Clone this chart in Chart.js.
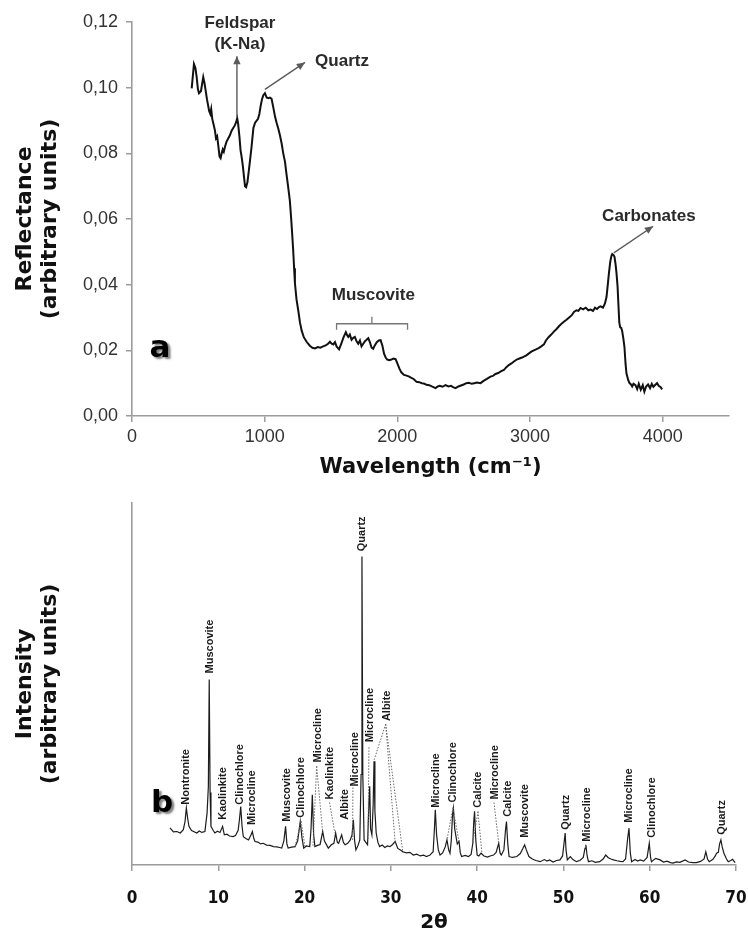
<!DOCTYPE html>
<html><head><meta charset="utf-8">
<script src="https://cdn.jsdelivr.net/npm/chart.js@4/dist/chart.umd.min.js"></script>
<style>
html,body{margin:0;padding:0;background:#fff;width:748px;height:936px;overflow:hidden}
#w1{position:absolute;left:0;top:0;width:748px;height:480px}
#w2{position:absolute;left:0;top:480px;width:748px;height:456px}
</style></head><body>
<div id="w1"><canvas id="c1"></canvas></div>
<div id="w2"><canvas id="c2"></canvas></div>
<script>
// ---------- (a) FTIR reflectance ----------
const wavenumber = [
450,467,478,487,497,505,520,537,546,555,
565,575,582,590,597,605,615,625,633,642,
650,660,668,676,684,692,701,712,725,738,
750,763,775,785,793,800,810,818,826,836,
845,852,860,870,880,890,900,915,928,940,
950,960,970,980,990,1002,1015,1027,1040,1052,
1065,1078,1090,1103,1115,1128,1140,1153,1165,1178,
1190,1200,1208,1215,1222,1228,1240,1253,1266,1279,
1295,1316,1340,1360,1379,1400,1420,1440,1460,1478,
1492,1505,1517,1530,1542,1561,1579,1595,1612,1622,
1630,1642,1655,1668,1680,1692,1705,1718,1730,1743,
1756,1768,1781,1793,1806,1818,1830,1845,1860,1874,
1887,1900,1912,1924,1940,1955,1970,1987,2000,2015,
2030,2050,2070,2090,2110,2125,2145,2165,2185,2200,
2220,2240,2260,2288,2305,2320,2340,2363,2385,2405,
2420,2439,2460,2480,2500,2520,2539,2560,2580,2600,
2627,2650,2675,2702,2720,2740,2760,2780,2803,2820,
2840,2860,2879,2900,2920,2940,2954,2970,2990,3010,
3029,3045,3065,3085,3105,3120,3140,3160,3180,3200,
3220,3240,3255,3275,3295,3315,3331,3350,3365,3381,
3400,3420,3440,3457,3475,3490,3505,3520,3532,3550,
3565,3577,3585,3595,3605,3614,3620,3630,3637,3645,
3652,3660,3667,3673,3680,3688,3695,3704,3712,3720,
3727,3740,3750,3757,3770,3780,3795,3808,3820,3835,
3850,3862,3875,3890,3905,3918,3930,3945,3958,3970,
3985,3996];
const reflectance = [
0.0998,0.1072,0.1060,0.1034,0.0995,0.0983,0.0990,0.1032,0.1015,0.0992,
0.0965,0.0943,0.0928,0.0920,0.0935,0.0905,0.0888,0.0870,0.0846,0.0852,
0.0825,0.0790,0.0785,0.0800,0.0812,0.0805,0.0820,0.0835,0.0845,0.0855,
0.0868,0.0877,0.0885,0.0895,0.0907,0.0890,0.0850,0.0810,0.0790,0.0760,
0.0725,0.0700,0.0697,0.0712,0.0745,0.0780,0.0815,0.0877,0.0893,0.0900,
0.0905,0.0920,0.0945,0.0965,0.0977,0.0983,0.0970,0.0968,0.0970,0.0966,
0.0940,0.0912,0.0893,0.0875,0.0855,0.0830,0.0800,0.0775,0.0735,0.0695,
0.0655,0.0600,0.0550,0.0505,0.0450,0.0405,0.0355,0.0322,0.0285,0.0260,
0.0240,0.0226,0.0214,0.0208,0.0206,0.0210,0.0208,0.0212,0.0215,0.0220,
0.0226,0.0220,0.0218,0.0225,0.0212,0.0203,0.0222,0.0240,0.0255,0.0246,
0.0241,0.0248,0.0232,0.0238,0.0241,0.0228,0.0220,0.0230,0.0212,0.0220,
0.0228,0.0232,0.0237,0.0225,0.0208,0.0205,0.0215,0.0225,0.0230,0.0231,
0.0215,0.0190,0.0178,0.0172,0.0170,0.0172,0.0175,0.0173,0.0160,0.0145,
0.0133,0.0125,0.0123,0.0120,0.0115,0.0112,0.0104,0.0103,0.0100,0.0099,
0.0095,0.0094,0.0090,0.0085,0.0090,0.0092,0.0089,0.0094,0.0090,0.0092,
0.0088,0.0085,0.0090,0.0093,0.0096,0.0100,0.0101,0.0098,0.0100,0.0102,
0.0100,0.0107,0.0113,0.0120,0.0122,0.0128,0.0131,0.0136,0.0140,0.0148,
0.0155,0.0160,0.0166,0.0172,0.0175,0.0178,0.0181,0.0184,0.0190,0.0196,
0.0200,0.0203,0.0207,0.0212,0.0218,0.0230,0.0240,0.0248,0.0257,0.0265,
0.0274,0.0282,0.0287,0.0293,0.0300,0.0307,0.0317,0.0322,0.0320,0.0329,
0.0325,0.0330,0.0322,0.0324,0.0320,0.0330,0.0326,0.0332,0.0334,0.0330,
0.0343,0.0363,0.0395,0.0435,0.0470,0.0488,0.0493,0.0490,0.0485,0.0462,
0.0435,0.0395,0.0335,0.0285,0.0270,0.0268,0.0258,0.0235,0.0210,0.0160,
0.0130,0.0110,0.0100,0.0098,0.0090,0.0098,0.0094,0.0082,0.0098,0.0080,
0.0094,0.0074,0.0090,0.0096,0.0085,0.0098,0.0089,0.0095,0.0100,0.0092,
0.0088,0.0081];
const ftirXTicks = [0,1000,2000,3000,4000];
const ftirXTickLabels = ['0','1000','2000','3000','4000'];
const ftirYTicks = [0,0.02,0.04,0.06,0.08,0.10,0.12];
const ftirYTickLabels = ['0,00','0,02','0,04','0,06','0,08','0,10','0,12'];

// annotations for (a), in data units
const ftirNotes = [
  {text:'Feldspar', x:814, y:0.1197},
  {text:'(K-Na)', x:814, y:0.1131},
  {text:'Quartz', x:1583, y:0.1081},
  {text:'Muscovite', x:1819, y:0.0369},
  {text:'Carbonates', x:3896, y:0.0608}
];
const ftirArrows = [
  {x1:791, y1:0.0910, x2:791, y2:0.1096},
  {x1:1002, y1:0.0995, x2:1304, y2:0.1077},
  {x1:3632, y1:0.0497, x2:3928, y2:0.0578}
];
const muscoviteBracket = {x1:1542, x2:2077, xm:1808, y:0.0281, yEnd:0.0263, yMid:0.0302};

// ---------- (b) XRD ----------
const twoTheta = [
4.4,4.8,5.2,5.6,5.95,6.15,6.3,6.45,6.6,6.9,
7.2,7.5,7.8,8.1,8.45,8.7,8.85,8.95,9.05,9.15,
9.4,9.6,9.9,10.2,10.5,10.7,11.0,11.3,11.7,12.0,
12.3,12.45,12.6,12.75,12.9,13.2,13.5,13.8,13.95,14.1,
14.25,14.6,14.9,15.2,15.6,16.0,16.4,16.8,17.1,17.35,
17.6,17.8,17.95,18.1,18.5,18.9,19.2,19.5,19.7,19.9,
20.2,20.6,20.75,20.9,21.05,21.2,21.5,21.8,22.1,22.3,
22.75,23.1,23.4,23.6,23.8,23.95,24.3,24.5,24.7,25.0,
25.3,25.5,25.65,25.8,25.95,26.2,26.4,26.55,26.65,26.75,
26.9,27.1,27.3,27.45,27.55,27.65,27.8,27.95,28.05,28.15,
28.3,28.5,28.7,29.0,29.3,29.6,29.9,30.2,30.5,30.8,
31.1,31.4,31.8,32.2,32.6,33.0,33.4,33.8,34.1,34.5,
34.9,35.05,35.15,35.3,35.5,35.7,36.0,36.3,36.5,36.7,
36.85,37.0,37.15,37.25,37.4,37.55,37.7,37.9,38.05,38.2,
38.6,39.0,39.3,39.5,39.6,39.7,39.85,40.0,40.2,40.45,
40.8,41.2,41.5,41.9,42.2,42.5,42.65,42.8,43.1,43.3,
43.4,43.55,43.7,44.1,44.6,45.0,45.3,45.5,45.7,46.0,
46.4,46.8,47.3,47.8,48.1,48.4,48.8,49.2,49.6,49.9,
50.1,50.2,50.3,50.45,50.8,51.1,51.5,51.9,52.3,52.5,
52.6,52.75,52.9,53.3,53.7,54.2,54.6,54.9,55.2,55.5,
55.8,56.2,56.6,56.9,57.2,57.45,57.6,57.75,57.9,58.3,
58.6,58.9,59.3,59.7,59.95,60.1,60.2,60.7,61.2,61.6,
62.0,62.4,62.7,63.1,63.5,64.1,64.5,65.0,65.4,65.9,
66.3,66.5,66.7,66.9,67.3,67.6,67.75,67.95,68.1,68.25,
68.4,68.6,68.9,69.1,69.4,69.6,69.9];
const intensity = [
12.3,11.0,11.1,10.6,11.7,14.5,18.9,15.5,12.8,11.4,
11.0,10.6,11.3,10.8,11.1,17.2,26,61.5,24,12.8,
11.5,10.6,11.2,10.8,12.8,10.0,10.2,9.6,9.4,9.8,
11.5,15,19.4,13,9.4,8.8,8.3,10,11.1,9,
7.8,7.6,7.0,7.2,6.6,6.5,6.1,6.0,5.8,5.6,
8,12.8,7,5.6,5.9,6.1,8,14.4,9,5.6,
6.3,6.1,12,23.3,10,6.1,6.5,6.8,11.1,8,
5.6,6.7,7.2,10.6,7.5,7.2,10,7.5,6.7,7.2,
8.3,10,15,8,5,6.5,8.3,30,102.3,30,
8.3,7.5,6.7,20,26.1,12,10,20,34.4,18,
10.6,7.5,6.1,6.6,5.8,6.3,6.1,6.8,7.8,5.5,
5.0,4.4,4.0,4.2,3.3,3.6,3.0,3.3,2.8,3.2,
4.4,12,18.3,10,5,3.3,4,6,8.3,5,
3.9,8,17,18.9,12,9.4,7,7.8,4,2.8,
3.2,2.8,3.5,7.2,14,17.8,8,3.3,3.0,3.9,
3.0,2.6,3.0,3.3,4.2,7.2,4,3.3,5,12,
14.4,7,2.8,2.5,2.8,3.8,5.5,6.7,5,2.8,
2.0,1.5,1.1,1.8,1.3,1.7,1.0,1.5,1.7,3,
8,10.6,5,1.7,2.8,1.8,1.1,1.5,2.5,5.5,
6.7,3,1.1,1.4,0.9,1.1,2.0,3.3,2.4,2.0,
1.7,1.4,1.2,1.1,2,9,12.2,4,1.1,1.8,
1.3,1.7,1.3,2.5,7.2,2.5,1.1,2.2,1.7,1.0,
1.3,0.8,0.6,1.0,0.9,1.7,1.0,0.8,0.8,1.2,
2.0,4.4,2.0,1.1,1.8,3.0,3.9,4.2,7,8.3,
6,3.9,2,1.1,1.5,1.9,0.8];
const xrdXTicks = [0,10,20,30,40,50,60,70];
const xrdXTickLabels = ['0','10','20','30','40','50','60','70'];

// phase labels for (b): [name, 2θ, intensity at the label's lower end]
const xrdLabels = [
  ['Nontronite',6.26,20],['Muscovite',9.04,63.5],['Kaolinkite',10.5,15],
  ['Clinochlore',12.5,20],['Microcline',13.9,13.3],['Muscovite',17.96,14.3],
  ['Clinochlore',19.6,15.7],['Microcline',21.55,34],['Kaolinkite',22.9,21.7],
  ['Albite',24.7,15],['Microcline',25.8,26],['Quartz',26.65,104],
  ['Microcline',27.6,40.7],['Albite',29.5,47.7],['Microcline',35.2,19],
  ['Clinochlore',37.2,20.7],['Calcite',40.1,19],['Microcline',42.1,21.7],
  ['Calcite',43.6,16],['Muscovite',45.5,9],['Quartz',50.3,11.7],
  ['Microcline',52.7,7.7],['Microcline',57.6,14],['Clinochlore',60.25,9],
  ['Quartz',68.4,10]
];
// dotted leader lines for (b): [[2θ, I], [2θ, I]]
const xrdLeaders = [
  [[19.6,14.5],[18.9,6]],[[19.6,14.5],[20.05,6]],
  [[21.4,32.7],[20.97,6]],[[21.4,32.7],[22.1,10.7]],
  [[22.9,20.7],[23.5,10.7]],
  [[25.6,25.7],[25.57,8.3]],
  [[27.46,39],[27.35,8.3]],
  [[29.4,46.7],[28.0,34.3]],[[29.4,46.7],[30.5,7.3]],[[29.4,46.7],[31.4,4]],
  [[37.2,19],[36.5,8.3]],[[37.2,19],[37.9,7.7]],
  [[40.1,17.7],[39.5,7.3]],[[40.1,17.7],[40.55,4]],
  [[41.95,20.7],[42.5,7.3]]
];

const GRAY = '#9c9c9c';

function drawArrow(ctx, x1, y1, x2, y2){
  ctx.beginPath(); ctx.moveTo(x1,y1); ctx.lineTo(x2,y2); ctx.stroke();
  const a = Math.atan2(y2-y1, x2-x1), L = 9, W = 0.42;
  ctx.beginPath();
  ctx.moveTo(x2,y2);
  ctx.lineTo(x2 - L*Math.cos(a-W), y2 - L*Math.sin(a-W));
  ctx.lineTo(x2 - L*Math.cos(a+W), y2 - L*Math.sin(a+W));
  ctx.closePath(); ctx.fill();
}
function panelLetter(ctx, t, x, y){
  ctx.save();
  ctx.font = 'bold 31px "DejaVu Sans", sans-serif';
  ctx.textAlign='center'; ctx.textBaseline='middle';
  ctx.shadowColor='rgba(0,0,0,0.5)'; ctx.shadowOffsetX=2.5; ctx.shadowOffsetY=2.5; ctx.shadowBlur=2;
  ctx.fillStyle='#000'; ctx.fillText(t,x,y);
  ctx.restore();
}

const ftirNotesPlugin = {
  id:'ftirNotes',
  afterDatasetsDraw(chart){
    const ctx = chart.ctx, sx = chart.scales.x, sy = chart.scales.y;
    const X = v=>sx.getPixelForValue(v), Y = v=>sy.getPixelForValue(v);
    ctx.save();
    ctx.strokeStyle='#5a5a5a'; ctx.fillStyle='#5a5a5a'; ctx.lineWidth=1.4;
    ftirArrows.forEach(a=>drawArrow(ctx, X(a.x1), Y(a.y1), X(a.x2), Y(a.y2)));
    const b = muscoviteBracket;
    ctx.strokeStyle='#777'; ctx.lineWidth=1.3;
    ctx.beginPath();
    ctx.moveTo(X(b.x1), Y(b.yEnd)); ctx.lineTo(X(b.x1), Y(b.y)); ctx.lineTo(X(b.x2), Y(b.y)); ctx.lineTo(X(b.x2), Y(b.yEnd));
    ctx.moveTo(X(b.xm), Y(b.y)); ctx.lineTo(X(b.xm), Y(b.yMid));
    ctx.stroke();
    ctx.fillStyle='#2a2a2a';
    ctx.font='bold 17px "Liberation Sans", Arial, sans-serif';
    ctx.textAlign='center'; ctx.textBaseline='middle';
    ftirNotes.forEach(n=>ctx.fillText(n.text, X(n.x), Y(n.y)));
    ctx.restore();
    panelLetter(ctx, 'a', X(211), Y(0.0205));
  }
};

const xrdNotesPlugin = {
  id:'xrdNotes',
  afterDatasetsDraw(chart){
    const ctx = chart.ctx, sx = chart.scales.x, sy = chart.scales.y;
    const X = v=>sx.getPixelForValue(v), Y = v=>sy.getPixelForValue(v);
    ctx.save();
    ctx.strokeStyle='#6a6a6a'; ctx.lineWidth=1; ctx.setLineDash([1.5,1.5]);
    xrdLeaders.forEach(l=>{
      ctx.beginPath(); ctx.moveTo(X(l[0][0]), Y(l[0][1])); ctx.lineTo(X(l[1][0]), Y(l[1][1])); ctx.stroke();
    });
    ctx.setLineDash([]);
    ctx.fillStyle='#1a1a1a';
    ctx.font='bold 11px "Liberation Sans", Arial, sans-serif';
    ctx.textAlign='left'; ctx.textBaseline='middle';
    xrdLabels.forEach(l=>{
      ctx.save(); ctx.translate(X(l[1]), Y(l[2])); ctx.rotate(-Math.PI/2);
      ctx.fillText(l[0], 0, 0); ctx.restore();
    });
    ctx.restore();
    panelLetter(ctx, 'b', X(3.5), Y(20.3));
  }
};

const titleFont = {family:'"DejaVu Sans", sans-serif', weight:'bold', size:22, lineHeight:1.14};

new Chart(document.getElementById('c1'), {
  type:'line',
  data:{datasets:[{
    data: wavenumber.map((x,i)=>({x:x, y:reflectance[i]})),
    borderColor:'#111', borderWidth:2, pointRadius:0, tension:0, fill:false
  }]},
  options:{
    animation:false, responsive:true, maintainAspectRatio:false,
    layout:{padding:{left:0, right:19, top:22, bottom:0}},
    plugins:{legend:{display:false}, tooltip:{enabled:false}},
    scales:{
      x:{
        type:'linear', min:0, max:4500,
        afterBuildTicks:s=>{ s.ticks = ftirXTicks.map(v=>({value:v})); },
        afterFit:s=>{ s.height = 64; s.paddingLeft = 0; s.paddingRight = 0; },
        ticks:{autoSkip:false, maxRotation:0, padding:4, color:'#333',
               font:{family:'"Liberation Sans", Arial, sans-serif', size:18},
               callback:(v,i)=>ftirXTickLabels[i]},
        grid:{drawOnChartArea:false, drawTicks:true, tickLength:6, color:GRAY, lineWidth:1.5},
        border:{display:true, color:GRAY, width:1.6},
        title:{display:true, text:'Wavelength (cm\u207B\u00B9)', color:'#111',
               font:{family:'"DejaVu Sans", sans-serif', weight:'bold', size:21}, padding:{top:0, bottom:0}}
      },
      y:{
        type:'linear', min:0, max:0.12,
        afterBuildTicks:s=>{ s.ticks = ftirYTicks.map(v=>({value:v})); },
        afterFit:s=>{ s.width = 132; s.paddingTop = 0; s.paddingBottom = 0; },
        ticks:{autoSkip:false, padding:8, color:'#333',
               font:{family:'"Liberation Sans", Arial, sans-serif', size:18},
               callback:(v,i)=>ftirYTickLabels[i]},
        grid:{drawOnChartArea:false, drawTicks:true, tickLength:6, color:GRAY, lineWidth:1.5},
        border:{display:true, color:GRAY, width:1.6},
        title:{display:true, text:['Reflectance','(arbitrary units)'], color:'#111', font:titleFont, padding:{top:13, bottom:0}}
      }
    }
  },
  plugins:[ftirNotesPlugin]
});

new Chart(document.getElementById('c2'), {
  type:'line',
  data:{datasets:[{
    data: twoTheta.map((x,i)=>({x:x, y:intensity[i]})),
    borderColor:'#1c1c1c', borderWidth:1.2, pointRadius:0, tension:0, fill:false
  }]},
  options:{
    animation:false, responsive:true, maintainAspectRatio:false,
    layout:{padding:{left:0, right:12, top:23, bottom:0}},
    plugins:{legend:{display:false}, tooltip:{enabled:false}},
    scales:{
      x:{
        type:'linear', min:0, max:70,
        afterBuildTicks:s=>{ s.ticks = xrdXTicks.map(v=>({value:v})); },
        afterFit:s=>{ s.height = 71; s.paddingLeft = 0; s.paddingRight = 0; },
        ticks:{autoSkip:false, maxRotation:0, padding:17, color:'#111',
               font:{family:'"DejaVu Sans Condensed", "DejaVu Sans", sans-serif', weight:'bold', size:17},
               callback:(v,i)=>xrdXTickLabels[i]},
        grid:{drawOnChartArea:false, drawTicks:true, tickLength:6, color:GRAY, lineWidth:1.5},
        border:{display:true, color:GRAY, width:1.6},
        title:{display:true, text:'2\u03B8', color:'#111',
               font:{family:'"DejaVu Sans", sans-serif', weight:'bold', size:20}, padding:{top:0, bottom:1}}
      },
      y:{
        type:'linear', min:0, max:120,
        afterFit:s=>{ s.width = 132; s.paddingTop = 0; s.paddingBottom = 0; },
        ticks:{display:false},
        grid:{drawOnChartArea:false, drawTicks:false},
        border:{display:true, color:GRAY, width:1.6},
        title:{display:true, text:['Intensity','(arbitrary units)'], color:'#111', font:titleFont, padding:{top:13, bottom:0}}
      }
    }
  },
  plugins:[xrdNotesPlugin]
});
</script>
</body></html>
